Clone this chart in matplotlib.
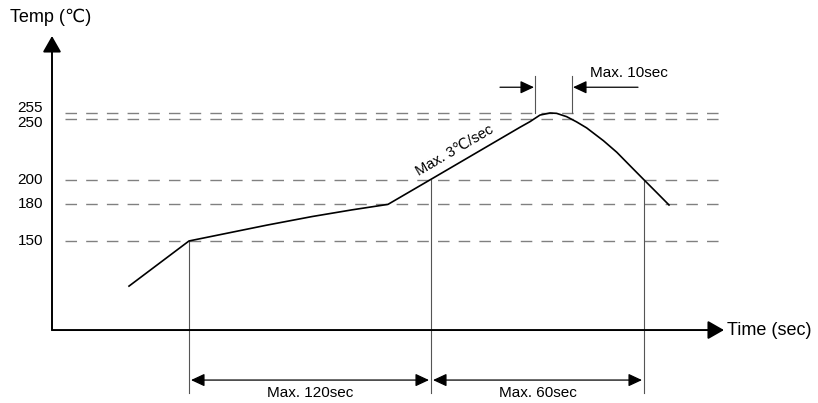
import matplotlib.pyplot as plt

plt.rcParams['font.family'] = ['Liberation Sans', 'DejaVu Sans']

# reflow profile (schematic time units, temperature in C)
profile_time = [38.5, 68.5, 88, 107.5, 130, 150, 168, 190.5, 234, 239, 244, 249, 252.3,
                257.3, 262.3, 267.3, 275.7, 282.4, 289, 295.7, 302.4, 308.5]
profile_temp = [113, 150, 156.5, 163, 170, 175.5, 180, 201.5, 243.2, 247.8, 253.2, 254.9,
                254.6, 251.9, 247.6, 242.7, 232.2, 222.7, 211.7, 200.6, 189.6, 179.5]

ref_temps = [150, 180, 200, 250, 255]
ref_labels = ['150', '180', '200', '250', '255']
label_shift = [0, 0, 0, -3.5, 4]

# time marks on the profile
t_soak_start = 68.5
t_liq_start = 189.5
t_liq_end = 296
t_peak_a = 241.5
t_peak_b = 260

fig = plt.figure(figsize=(8.18, 4.03), dpi=100)
ax = fig.add_axes([0, 0, 1, 1])
ax.set_xlim(-26, 383)
ax.set_ylim(17.2, 347.5)
ax.axis('off')

# dashed reference lines
for T, lab, dy in zip(ref_temps, ref_labels, label_shift):
    ax.plot([6.5, 334], [T, T], color='#808080', lw=1.0, dashes=(8.3, 6.6))
    ax.text(-4.5, T + dy, lab, ha='right', va='center', fontsize=11)

# axes with arrows
ax.annotate('', xy=(336, 77), xytext=(0, 77),
            arrowprops=dict(arrowstyle='-|>,head_length=0.7,head_width=0.4',
                            mutation_scale=14, color='black', lw=1.4,
                            shrinkA=0, shrinkB=0))
ax.annotate('', xy=(0, 318), xytext=(0, 77),
            arrowprops=dict(arrowstyle='-|>,head_length=0.7,head_width=0.4',
                            mutation_scale=14, color='black', lw=1.4,
                            shrinkA=0, shrinkB=0))
ax.text(337.5, 77, 'Time (sec)', ha='left', va='center', fontsize=13)
ax.text(-21, 333, 'Temp (℃)', ha='left', va='center', fontsize=13)

# vertical marker lines
vc = '#555555'
ax.plot([t_soak_start] * 2, [150, 25.5], color=vc, lw=0.8)
ax.plot([t_liq_start] * 2, [200, 25.5], color=vc, lw=0.8)
ax.plot([t_liq_end] * 2, [200, 25.5], color=vc, lw=0.8)
ax.plot([t_peak_a] * 2, [255, 285], color=vc, lw=0.8)
ax.plot([t_peak_b] * 2, [255, 285], color=vc, lw=0.8)

# profile curve
ax.plot(profile_time, profile_temp, color='black', lw=1.2, solid_joinstyle='round')

# dimension arrows
darrow = dict(arrowstyle='<|-|>,head_length=0.75,head_width=0.35',
              mutation_scale=11, color='black', lw=0.9, shrinkA=0, shrinkB=0)
ax.annotate('', xy=(t_liq_start - 1, 36), xytext=(t_soak_start + 1, 36), arrowprops=darrow)
ax.annotate('', xy=(t_liq_end - 1, 36), xytext=(t_liq_start + 1, 36), arrowprops=darrow)
ax.text((t_soak_start + t_liq_start) / 2, 25.5, 'Max. 120sec', ha='center', va='center', fontsize=11)
ax.text((t_liq_start + t_liq_end) / 2, 25.5, 'Max. 60sec', ha='center', va='center', fontsize=11)

sarrow = dict(arrowstyle='-|>,head_length=0.75,head_width=0.35',
              mutation_scale=11, color='black', lw=0.9, shrinkA=0, shrinkB=0)
ax.annotate('', xy=(t_peak_a - 0.5, 276), xytext=(224, 276), arrowprops=sarrow)
ax.annotate('', xy=(t_peak_b + 0.5, 276), xytext=(293, 276), arrowprops=sarrow)
ax.text(269, 287.5, 'Max. 10sec', ha='left', va='center', fontsize=11)

ax.text(203, 219, 'Max. 3℃/sec', ha='center', va='bottom', rotation=30.3,
        rotation_mode='anchor', fontsize=10.5)

fig.savefig('out.png', dpi=100)
